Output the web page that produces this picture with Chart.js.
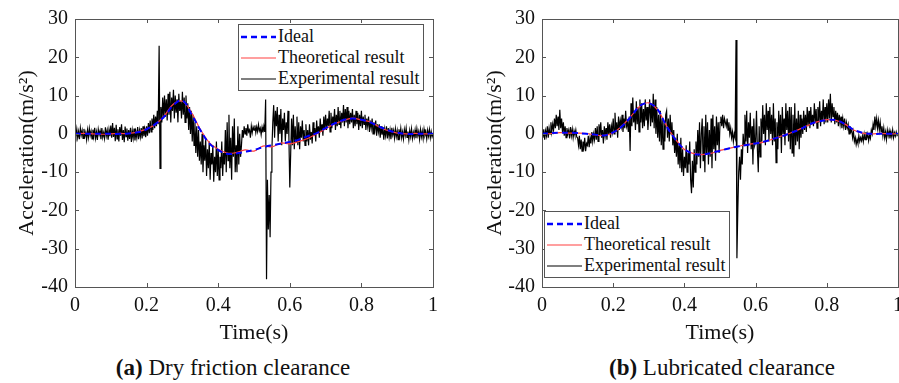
<!DOCTYPE html>
<html>
<head>
<meta charset="utf-8">
<script src="https://cdn.jsdelivr.net/npm/chart.js@4"></script>
<style>
  body { margin: 0; background: #fff; width: 899px; height: 383px; overflow: hidden; position: relative;
         font-family: "Liberation Serif", Tinos, "Times New Roman", "DejaVu Serif", serif; color: #111; }
  .panel { position: absolute; top: 0; height: 350px; }
  #panelA { left: 0; width: 450px; }
  #panelB { left: 450px; width: 460px; }
  .legend { position: absolute; background: #fff; border: 1px solid #555; font-size: 18px;
            padding: 1px 4px 1px 2px; line-height: 21px; }
  .legend .row { display: flex; align-items: center; height: 21px; white-space: nowrap; }
  .legend svg { margin-right: 2px; }
  .caption { position: absolute; top: 355px; font-size: 23px; line-height: 26px; white-space: nowrap;
             transform: translateX(-50%); }
</style>
</head>
<body>
<div class="panel" id="panelA"><canvas id="chartA"></canvas></div>
<div class="panel" id="panelB"><canvas id="chartB"></canvas></div>
<div class="legend" id="legendA" style="left:238px; top:24px;"></div>
<div class="legend" id="legendB" style="left:544px; top:211px;"></div>
<div class="caption" style="left:233px;"><b>(a)</b> Dry friction clearance</div>
<div class="caption" style="left:722px;"><b>(b)</b> Lubricated clearance</div>

<script>
const FONT = '"Liberation Serif", Tinos, "Times New Roman", "DejaVu Serif", serif';

// sample times: smooth curves every 0.025 s, measured signal every 0.0025 s
const tCoarse = Array.from({ length: 41 }, (_, i) => i / 40);
const tFine = Array.from({ length: 401 }, (_, i) => i / 400);

const seriesLabels = ['Ideal', 'Theoretical result', 'Experimental result'];
const xTickLabels = ['0', '0.2', '0.4', '0.6', '0.8', '1'];
const yTickLabels = ['-40', '-30', '-20', '-10', '0', '10', '20', '30'];

// (a) dry friction clearance
const idealA = [0, 0, 0, 0, 0, 0, 0.1, 0.4, 1.2, 2.6, 4.6, 7.5, 8.7, 5.2, 1, -2.5, -4.2, -5.2, -5.1, -4.7,
  -4.2, -3.5, -3, -2.6, -2.1, -1.5, -0.6, 0.2, 1.5, 2.7, 3.6, 4, 3.7, 3, 1.9, 0.9, 0.3, 0, 0, 0, 0];
const theoA = [0, 0.1, 0, -0.1, 0, 0.1, 0.1, 0.5, 1.3, 2.5, 4.8, 7.8, 8.5, 5.6, 1.2, -2.3, -4, -5, -4.9, -4.2,
  -4.5, -3.2, -3.4, -2.4, -2.6, -2, -1.2, 0, 1.3, 2.6, 3.5, 4.1, 3.6, 3.1, 1.8, 0.8, 0.2, 0, 0.1, 0, 0];
const expA = [
  0.3, -0.8, 1.2, -1, 0.6, -1.4, 1.5, -0.3, 0.9, -1.2, 1.3, -0.6, 0.4, -1.5, 1, -0.9, 1.4, -0.4, 0.7, -1.3,
  1.1, -0.7, 1.6, -1.1, 0.5, -1.6, 1.2, -0.2, 0.8, -1.4, 1.5, -0.9, 0.3, -1.2, 1.7, -0.5, 0.9, -1.5, 1.1, -0.6,
  2.2, -1, 2.8, -0.8, 1.6, -1.9, 2.4, -1.3, 1.2, -2, 1.8, -0.5, 2.5, -1.6, 1, -2.2, 1.9, -0.7, 1.4, -1.8,
  1, -1.3, 1.6, -2.1, 0.8, -1.1, 1.4, -1.7, 0.5, -1, 1.8, -1.4, 0.9, -0.8, 1.5, -1.2, 2, -0.6, 1.2, -0.9,
  2, -0.5, 2.8, 0.2, 3.5, 0.5, 4, 1, 5, 1.5, 4.5, 2, 6, 2.5, 23, -9, 7, 3, 9.5, 4,
  10, 4.5, 9, 3.5, 10.5, 5, 11, 3, 9.5, 6, 11.5, 4, 10, 5.5, 9, 3, 10.5, 6, 8.5, 4,
  11, 5, 9.5, 3, 10, 4, 8, 1, 7, 0, 6, -2, 5, -3, 3, -5, 2, -6, 1, -7,
  -2, -8, 0, -10, -3, -7, -1, -11, -4, -9, -2, -12, -5, -8, -3, -12.5, -6, -10, -2, -11,
  -4, -12, -6, -9, -2, -11, -5, -8, 1, -10, 3, -7, 5, -9, -1, -12, 2, -6, 4, -10,
  -3, -10, 2, -8, 0, -6, -3, 1, -1, 2, 0, 1.5, -0.5, 2.5, 0.5, 1, -1, 2, 0.3, 1.8,
  1, 2.2, 0.3, 1.8, 0.6, 2.4, 0.8, 1.5, -0.2, 1.7, 0.4, 2, 0.5, 9, -38, -12, -25, -16, -27, -10,
  -4, 3, 7.5, -1, 6, 2, 7, -2, 5, 0, 6.5, -3, 4, 1, 5.5, -2, 3, 0, 6, -1,
  -14, -5, 4, -3, 5, -4, 2, -2, 4.5, -3, 3, -4, 2, -1, 3.5, -2, 1, -3, 2.5, -2,
  1, -3, 2.5, -1.5, 0.5, -2.5, 3, -0.5, 1.5, -2, 3.5, 0, 2, -1, 4, 0.5, 2.5, -0.5, 4.5, 1,
  5, 1, 4, 2, 6, 0.5, 5.5, 1.5, 4.5, 2.5, 6.5, 1, 5, 2, 7, 2.5, 6, 1.5, 5.5, 3,
  7.5, 2, 6.5, 3, 7, 1.5, 6, 2.5, 5.5, 3, 6.5, 1.5, 5, 2, 6, 2.5, 5.5, 1, 5, 2,
  6, 1.5, 4.5, 2.5, 5, 1, 4, 2, 4.5, 0.5, 3.5, 1.5, 4, 0, 3, 1, 3.5, -0.5, 2.5, 0.5,
  2.5, -1, 2, -0.2, 1.8, -1.5, 1.2, -0.5, 2, -1.2, 1.5, -0.8, 1, -1.4, 1.6, -0.3, 0.9, -1.1, 1.3, -0.7,
  0.8, -1.5, 1.2, -0.6, 1.4, -1, 0.5, -1.3, 1.1, -0.4, 1.5, -0.9, 0.6, -1.5, 0.9, -0.7, 1.3, -1.2, 0.4, -0.8,
  1, -1.1, 1.3, -0.5, 0.6, -1.4, 1.1, -0.8, 0.7, -1.2, 1.2, -0.4, 0.5, -1.3, 0.9, -0.6, 1.1, -1, 0.6, -0.8,
  0];

// (b) lubricated clearance
const idealB = [0, 0.2, 0.3, 0.3, 0.2, 0, -0.2, -0.4, 0.4, 2, 4.5, 7.3, 8, 6.3, 2, -1.5, -4, -5.2, -5.4, -5,
  -4.4, -3.8, -3.3, -2.9, -2.5, -2, -1.3, -0.6, 0.3, 1.2, 2.4, 3.2, 3.6, 3.6, 2.6, 1.1, 0.3, 0, 0, 0, 0];
const theoB = [0, 0.1, 0.3, 0.2, 0.2, 0.1, -0.3, -0.4, 0.3, 2.1, 4.6, 7.2, 8.1, 6.2, 2.1, -1.4, -4.1, -5.1, -5.4, -5.1,
  -4.3, -3.8, -3.3, -2.8, -2.5, -2.1, -1.3, -0.5, 0.3, 1.3, 2.3, 3.2, 3.7, 3.5, 2.6, 1, 0.2, 0, 0.1, 0, 0];
const expB = [
  0.5, -1, 1.2, -1.5, 0.8, -0.5, 2, -1, 1.5, 0, 3, 0.5, 2.5, 1, 4, 1.5, 5, 2, 4.5, 1,
  6.3, 1.5, 4, 0.5, 3, -0.5, 2, -1, 1.5, 0, 1, -1.2, 1.8, -0.5, 1.2, -1, 0.8, -0.3, 1, -0.8,
  -1, -3, -0.5, -4, -1.5, -4.5, -2, -3.5, -1, -4.5, -2.5, -3, -0.5, -3.5, -1, -2.5, 0.5, -2, 0, -1.5,
  1.5, -1.5, 2, -2, 2.5, -0.5, 3, -1, 1, -2.5, 2, -0.5, 1.5, -1.5, 3, 0, 2.5, -1, 2, 0.5,
  4, 0, 5.5, 0.5, 3, -1, 4.5, 1, 3.5, 2, 5, 0.5, 4, 1.5, 6, 2, 3, 0.5, 4.5, -4.5,
  8, 2, 9.5, 3, 6, 1, 8.5, 2.5, 7, 0.5, 9, 3, 8, 1.5, 6.5, 2, 9, 3.5, 7, 1,
  5, 9, 2, 8, 3, 10.5, 1.5, 9, 0, 7, -1, 5, -2, 6, -3, 4, -4, 3, -2, 5,
  6, -1, 4, -2, 5, 0, 3, -3, 1, -5, -1, -6, 0, -8, -3, -9, -1, -10, -4, -11,
  -6, -9, -3, -10, -5, -8, -2, -12, -15.5, -7, -14, -4, -10, -2, -8, 1, -6, 3, -9, 0,
  4, -7, 2, -10, 5, -5, 3, -8, 1, -6, 4, -9, 5, -4, 2, -7, 4.5, -3, 3, -5,
  3, 4.5, 2, 5, 1.5, 4, 3, 2, 4, 1, 3, 0, 1.5, -1, 0.5, -2, 0, -1, 24.5, -32.5,
  -20, -10, -6, -12, -4, -8, 0, -3, 5, -2, 6, -5, 3, -1, 5.5, -4, 2, -8, 4, -3,
  -2, 6, -4, -10, 2, -6, 4, -2, 7.5, 0, 5, -3, 8, 1, 6, -2, 7, 0, 5, -3,
  8, -2, 4, -7.5, 3, -4, 6, -1, 5, -5, 7, 0, 4, -3, 8, 1, 6, -2, 7, -4,
  7, -5, 5, -6, 8, -3, 4, -2, 6, -4, 5, -1, 4, 0, 6, 1, 5, 0.5, 7, 2,
  6, 1.5, 7, 2.5, 5, 2, 8, 3, 6.5, 1.5, 7, 3, 8.5, 2, 6, 3.5, 9, 2.5, 7, 3,
  8, 3, 9, 4, 10.5, 3, 8, 4.5, 7, 2.5, 6, 3, 5.5, 2, 5, 2.5, 4.5, 1.5, 4, 2,
  4, 1, 3, 1.5, 2.5, 0, 2, 0.5, 1, -1, 0.5, -2, -1, -2.8, -1.5, -2.5, -0.5, -2, -1, -1.8,
  -0.5, -2, 0, -1.5, 0.5, -1, 0, -1.8, -0.3, -1.2, 1, 0, 2.5, 1, 4.5, 2, 4, 1.5, 3.5, 1,
  3, 0.5, 2, -0.5, 1.5, -1, 0.5, -1.5, 1, -0.5, 0.8, -1.2, 0.5, -0.8, 1, -1, 0.3, -0.6, 0.5, -0.4,
  0];

const colors = ['#0000ff', '#ff4040', '#000000'];

const pts = (ts, vs) => vs.map((v, i) => ({ x: ts[i], y: v }));

// MATLAB-like box with inward ticks on all four sides
const boxPlugin = {
  id: 'boxTicks',
  afterDraw(chart) {
    const { ctx, chartArea: a, scales: { x, y } } = chart;
    ctx.save();
    ctx.strokeStyle = '#555';
    ctx.lineWidth = 1;
    ctx.strokeRect(Math.round(a.left) + 0.5, Math.round(a.top) + 0.5,
      Math.round(a.right - a.left), Math.round(a.bottom - a.top));
    ctx.beginPath();
    x.ticks.forEach(t => {
      const px = Math.round(x.getPixelForValue(t.value)) + 0.5;
      ctx.moveTo(px, a.bottom); ctx.lineTo(px, a.bottom - 4);
      ctx.moveTo(px, a.top); ctx.lineTo(px, a.top + 4);
    });
    y.ticks.forEach(t => {
      const py = Math.round(y.getPixelForValue(t.value)) + 0.5;
      ctx.moveTo(a.left, py); ctx.lineTo(a.left + 4, py);
      ctx.moveTo(a.right, py); ctx.lineTo(a.right - 4, py);
    });
    ctx.stroke();
    ctx.restore();
  }
};

function makeChart(id, ideal, theo, exp, yWidth, padRight, yTitlePad) {
  const ctx = document.getElementById(id).getContext('2d');
  return new Chart(ctx, {
    type: 'line',
    data: {
      datasets: [
        { label: seriesLabels[0], data: pts(tCoarse, ideal), borderColor: colors[0], borderWidth: 2,
          borderDash: [6, 4], tension: 0.4, pointRadius: 0, fill: false },
        { label: seriesLabels[1], data: pts(tCoarse, theo), borderColor: colors[1], borderWidth: 1.2,
          tension: 0.4, pointRadius: 0, fill: false },
        { label: seriesLabels[2], data: pts(tFine, exp), borderColor: colors[2], borderWidth: 1.2,
          tension: 0, pointRadius: 0, fill: false }
      ]
    },
    options: {
      responsive: true,
      maintainAspectRatio: false,
      animation: false,
      layout: { padding: { left: 0, top: 16, right: padRight, bottom: 0 } },
      plugins: { legend: { display: false }, tooltip: { enabled: false } },
      scales: {
        x: {
          type: 'linear', min: 0, max: 1,
          grid: { display: false, drawTicks: false },
          border: { display: false },
          ticks: { stepSize: 0.2, padding: 7, color: '#111', maxRotation: 0,
                   font: { family: FONT, size: 20 },
                   callback: (v) => xTickLabels[Math.round(v * 5)] },
          title: { display: true, text: 'Time(s)', color: '#111',
                   font: { family: FONT, size: 22 }, padding: { top: 0, bottom: 4 } },
          afterFit: (s) => { s.height = 63; }
        },
        y: {
          min: -40, max: 30,
          grid: { display: false, drawTicks: false },
          border: { display: false },
          ticks: { stepSize: 10, padding: 7, color: '#111',
                   font: { family: FONT, size: 20 },
                   callback: (v) => yTickLabels[Math.round((v + 40) / 10)] },
          title: { display: true, text: 'Acceleration(m/s²)', color: '#111',
                   font: { family: FONT, size: 22 }, padding: { top: yTitlePad, bottom: 0 } },
          afterFit: (s) => { s.width = yWidth; }
        }
      }
    },
    plugins: [boxPlugin]
  });
}

function buildLegend(id) {
  const box = document.getElementById(id);
  seriesLabels.forEach((label, i) => {
    const dash = i === 0 ? ' stroke-dasharray="6,4"' : '';
    const w = i === 0 ? 2.5 : 1.2;
    const row = document.createElement('div');
    row.className = 'row';
    row.innerHTML = '<svg width="35" height="6"><line x1="0" y1="3" x2="35" y2="3" stroke="' + colors[i] +
      '" stroke-width="' + w + '"' + dash + '/></svg><span>' + label + '</span>';
    box.appendChild(row);
  });
}

makeChart('chartA', idealA, theoA, expA, 75, 17, 14);
makeChart('chartB', idealB, theoB, expB, 92, 12, 32);
buildLegend('legendA');
buildLegend('legendB');
</script>
</body>
</html>
